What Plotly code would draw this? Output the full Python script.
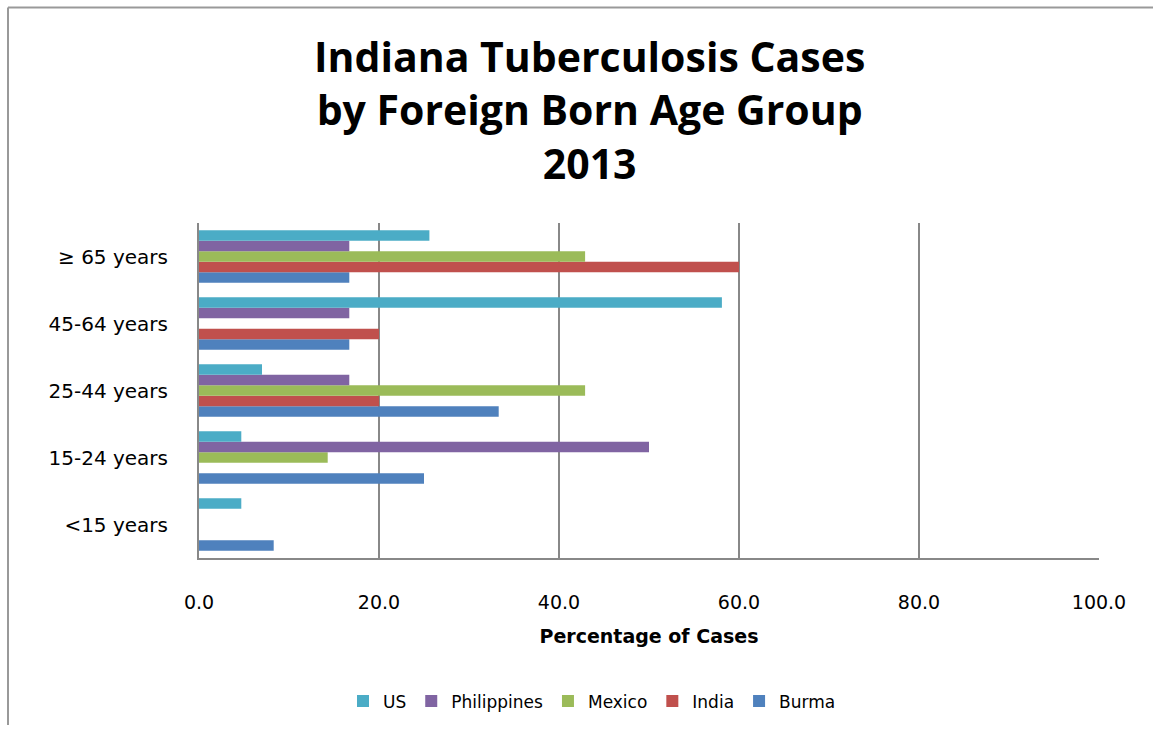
import plotly.graph_objects as go

# Age groups, bottom to top on the category axis
age_groups = ["<15 years", "15-24 years", "25-44 years", "45-64 years", "\u2265 65 years"]

# Percentage of cases by country of birth, aligned with age_groups
us = [4.7, 4.7, 7.0, 58.1, 25.6]
philippines = [0, 50.0, 16.7, 16.7, 16.7]
mexico = [0, 14.3, 42.9, 0, 42.9]
india = [0, 0, 20.0, 20.0, 60.0]
burma = [8.3, 25.0, 33.3, 16.7, 16.7]

x_ticks = [0, 20, 40, 60, 80, 100]
x_tick_labels = ["0.0", "20.0", "40.0", "60.0", "80.0", "100.0"]

title_lines = ["Indiana Tuberculosis Cases", "by Foreign Born Age Group", "2013"]

# Traces are added bottom-up so US sits on top of each group
series = [
    ("Burma", burma, "#4F81BD"),
    ("India", india, "#C0504D"),
    ("Mexico", mexico, "#9BBB59"),
    ("Philippines", philippines, "#8064A2"),
    ("US", us, "#4BACC6"),
]

TITLE_FONT = "Open Sans"
BODY_FONT = "DejaVu Sans"

# plot area in pixels
L, R, T, B = 199, 54, 223, 169
W, H = 1153, 731
PW, PH = W - L - R, H - T - B


def px_x(x):
    return (x - L) / PW


def px_y(y):
    return (H - B - y) / PH


fig = go.Figure()
for name, vals, color in series:
    fig.add_trace(go.Bar(
        name=name, y=age_groups, x=vals, orientation="h",
        marker=dict(color=color, line=dict(width=0)),
    ))

title_text = "<br>".join(f"<b>{t}</b>" for t in title_lines)

fig.update_layout(
    width=W, height=H,
    margin=dict(l=L, r=R, t=T, b=B),
    paper_bgcolor="white", plot_bgcolor="white",
    barmode="group", bargap=0.22, bargroupgap=0,
    font=dict(family=BODY_FONT, color="black"),
    annotations=[dict(
        text=title_text, xref="paper", yref="paper",
        x=px_x(589), y=px_y(108), xanchor="center", yanchor="middle",
        showarrow=False, align="center",
        font=dict(family=TITLE_FONT, size=41, color="black"),
    )],
    xaxis=dict(
        range=[0, 100], tickvals=x_ticks, ticktext=x_tick_labels,
        showgrid=True, gridcolor="#888888", gridwidth=2,
        showline=True, linecolor="#888888", linewidth=2,
        zeroline=False, ticks="", tickfont=dict(size=19),
        ticklabelstandoff=26,
        title=dict(text="<b>Percentage of Cases</b>", font=dict(size=19), standoff=18),
    ),
    yaxis=dict(
        showline=True, linecolor="#888888", linewidth=2,
        showgrid=False, ticks="", tickfont=dict(size=20),
        ticklabelstandoff=25,
    ),
    legend=dict(
        orientation="h", traceorder="reversed",
        x=px_x(592), xanchor="center", y=px_y(689), yanchor="top",
        font=dict(family=BODY_FONT, size=17), itemwidth=30,
    ),
    shapes=[
        dict(type="line", xref="paper", yref="paper",
             x0=px_x(8), x1=px_x(W), y0=px_y(5), y1=px_y(5),
             line=dict(color="#999999", width=2)),
        dict(type="line", xref="paper", yref="paper",
             x0=px_x(8), x1=px_x(8), y0=px_y(H), y1=px_y(5),
             line=dict(color="#999999", width=2)),
    ],
)

fig.write_html("out.html")
